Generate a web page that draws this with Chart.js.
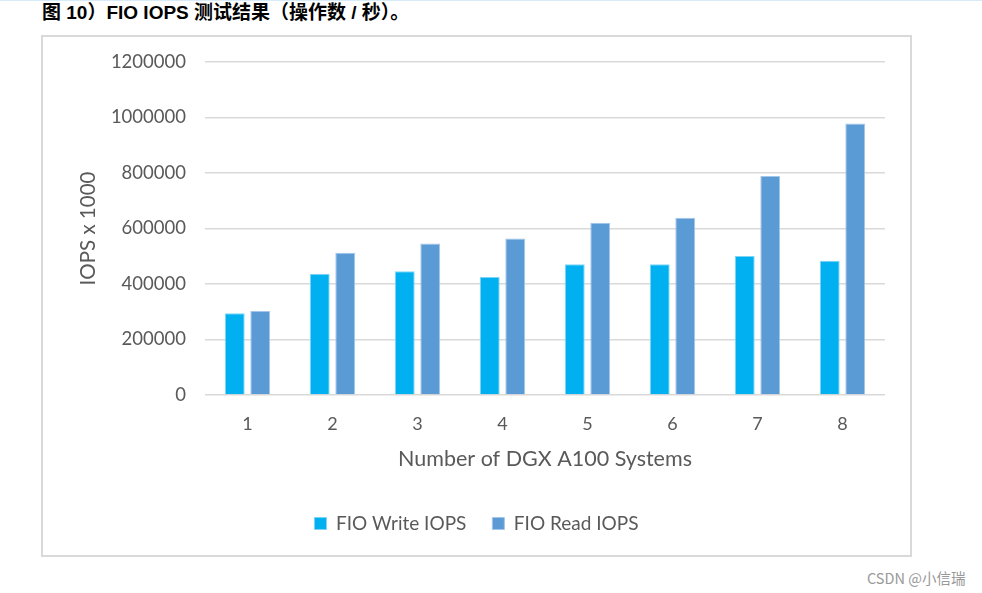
<!DOCTYPE html>
<html>
<head>
<meta charset="utf-8">
<script src="https://cdn.jsdelivr.net/npm/chart.js@4"></script>
<style>
  body { margin: 0; background: #fff; width: 982px; height: 593px; position: relative; overflow: hidden; }
  .topline { position: absolute; left: 0; top: 0; width: 982px; height: 1px; background: #d6ecfb; }
  .caption { position: absolute; left: 42px; top: -3px; line-height: 22px; font: bold 19px "Liberation Sans", "Noto Sans CJK SC", sans-serif; color: #000; }
  .box { position: absolute; left: 41px; top: 35px; width: 867px; height: 518px; border: 2px solid #d9d9d9; }
  .box canvas { display: block; }
  .mark { position: absolute; left: 867px; top: 567px; font: 14.5px "Noto Sans CJK SC", sans-serif; color: #999; }
</style>
</head>
<body>
<div class="topline"></div>
<div class="caption">图 10）FIO IOPS 测试结果（操作数 / 秒）。</div>
<div class="box"><canvas id="c" width="867" height="518"></canvas></div>
<div class="mark">CSDN @小信瑞</div>
<script>
// 图表数据
const categories = ['1', '2', '3', '4', '5', '6', '7', '8'];
const writeIops = [295000, 437000, 446000, 425000, 471000, 471000, 501000, 484000];
const readIops = [303000, 513000, 546000, 564000, 621000, 639000, 789000, 978000];
const seriesNames = ['FIO Write IOPS', 'FIO Read IOPS'];

const textColor = '#595959';
const fontFamily = 'Lato, "Open Sans", sans-serif';

new Chart(document.getElementById('c'), {
  type: 'bar',
  data: {
    labels: categories,
    datasets: [{
      label: seriesNames[0],
      data: writeIops,
      backgroundColor: '#00B0F0',
      borderColor: '#7fd4f6',
      borderWidth: 1,
      categoryPercentage: 0.6,
      barPercentage: 0.78
    }, {
      label: seriesNames[1],
      data: readIops,
      backgroundColor: '#5B9BD5',
      borderColor: '#a4c6e8',
      borderWidth: 1,
      categoryPercentage: 0.6,
      barPercentage: 0.78
    }]
  },
  options: {
    responsive: false,
    animation: false,
    layout: { padding: { left: 25, right: 25, top: 25, bottom: 12 } },
    plugins: {
      tooltip: { enabled: false },
      legend: {
        position: 'bottom',
        labels: {
          color: textColor,
          font: { family: fontFamily, size: 19 },
          boxWidth: 12,
          boxHeight: 12,
          padding: 26
        }
      }
    },
    scales: {
      x: {
        grid: { display: false, drawTicks: false },
        border: { display: false },
        ticks: { color: textColor, font: { family: fontFamily, size: 18 }, padding: 18 },
        title: {
          display: true,
          text: 'Number of DGX A100 Systems',
          color: textColor,
          font: { family: fontFamily, size: 21.5 },
          padding: { top: 0, bottom: 16 }
        },
        afterFit: (s) => { s.height = 93; }
      },
      y: {
        min: 0,
        max: 1200000,
        grid: { color: '#d9d9d9', lineWidth: 1.5, drawTicks: false },
        border: { display: false },
        ticks: {
          stepSize: 200000,
          color: textColor,
          font: { family: fontFamily, size: 18.5 },
          padding: 19,
          callback: (v) => String(v)
        },
        title: {
          display: true,
          text: 'IOPS x 1000',
          color: textColor,
          font: { family: fontFamily, size: 20.5 },
          padding: { top: 8, bottom: 0 }
        },
        afterFit: (s) => {
          s.width = 137;
          s.paddingTop = 0;
          s.paddingBottom = 0;
        }
      }
    }
  }
});
</script>
</body>
</html>
